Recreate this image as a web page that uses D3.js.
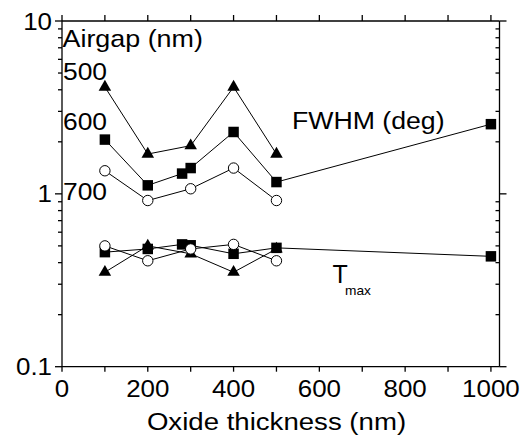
<!DOCTYPE html>
<html>
<head>
<meta charset="utf-8">
<script src="https://cdn.jsdelivr.net/npm/d3@7/dist/d3.min.js"></script>
<style>
  html, body { margin: 0; padding: 0; background: #fff; }
  svg { display: block; }
  text { font-family: "Liberation Sans", Arial, sans-serif; fill: #000; }
</style>
</head>
<body>
<svg id="chart" width="523" height="435"></svg>
<script>
// ---- data ----
const x500 = [100, 200, 300, 400, 500];
const x600 = [100, 200, 280, 300, 400, 500, 1000];
const x700 = [100, 200, 300, 400, 500];

const fwhm500 = [4.15, 1.70, 1.90, 4.15, 1.70];
const fwhm600 = [2.06, 1.12, 1.31, 1.41, 2.28, 1.17, 2.53];
const fwhm700 = [1.36, 0.915, 1.07, 1.41, 0.915];

const tmax500 = [0.352, 0.50, 0.45, 0.352, 0.48];
const tmax600 = [0.46, 0.48, 0.51, 0.504, 0.45, 0.487, 0.435];
const tmax700 = [0.50, 0.41, 0.48, 0.51, 0.41];

const xTickLabels = [0, 200, 400, 600, 800, 1000];
const yTickLabels = [0.1, 1, 10];
const airgapLabels = ["500", "600", "700"];

// ---- layout ----
const svg = d3.select("#chart");
const L = 62, R = 499.5, T = 21, B = 366.7;
const x = d3.scaleLinear().domain([0, 1020]).range([L, R]);
const y = d3.scaleLog().domain([0.1, 10]).range([B, T]);

const minorY = [];
[0.1, 1].forEach(d => { for (let k = 2; k <= 9; k++) minorY.push(d * k); });
const xTicksAll = d3.range(0, 1001, 100);

function stext(g, txt, px, py, size, sx, anchor) {
  const t = g.append("text")
    .attr("transform", `translate(${px},${py}) scale(${sx},1)`)
    .attr("font-size", size)
    .attr("text-anchor", anchor || "start")
    .text(txt);
  return t;
}

const axG = svg.append("g").attr("stroke", "#000").attr("stroke-width", 1.3).attr("fill", "none");
// frame
axG.append("line").attr("x1", L).attr("x2", R).attr("y1", B).attr("y2", B);
axG.append("line").attr("x1", L).attr("x2", R).attr("y1", T).attr("y2", T);
axG.append("line").attr("x1", L).attr("x2", L).attr("y1", T).attr("y2", B);
axG.append("line").attr("x1", R).attr("x2", R).attr("y1", T).attr("y2", B);

// bottom ticks (outward)
xTicksAll.forEach(v => {
  axG.append("line").attr("x1", x(v)).attr("x2", x(v)).attr("y1", B).attr("y2", B + 5);
  axG.append("line").attr("x1", x(v)).attr("x2", x(v)).attr("y1", T).attr("y2", T - 6);
});
// left ticks (outward)
yTickLabels.forEach(v => {
  axG.append("line").attr("x1", L - 7).attr("x2", L).attr("y1", y(v)).attr("y2", y(v));
  axG.append("line").attr("x1", R).attr("x2", R + 7).attr("y1", y(v)).attr("y2", y(v));
});
minorY.forEach(v => {
  axG.append("line").attr("x1", L - 4).attr("x2", L).attr("y1", y(v)).attr("y2", y(v));
  axG.append("line").attr("x1", R - 4).attr("x2", R).attr("y1", y(v)).attr("y2", y(v));
});

// tick labels
const lab = svg.append("g");
xTickLabels.forEach(v => stext(lab, String(v), x(v), 397, 24, 1.08, "middle"));
yTickLabels.forEach(v => stext(lab, String(v), 52, y(v) + 8.5, 24, 1.08, "end"));

// axis title
stext(lab, "Oxide thickness (nm)", 276.5, 430, 24, 1.15, "middle");

// annotations
stext(lab, "Airgap (nm)", 62.5, 46.7, 24, 1.12);
stext(lab, airgapLabels[0], 63, 80, 24, 1.1);
stext(lab, airgapLabels[1], 63, 130, 24, 1.1);
stext(lab, airgapLabels[2], 63, 200, 24, 1.1);
stext(lab, "FWHM (deg)", 292, 129.3, 23, 1.16);
stext(lab, "T", 332.5, 283.3, 25, 1.0);
stext(lab, "max", 345, 294.5, 12.5, 1.1);

// ---- series ----
const series = [
  { xs: x500, ys: fwhm500, shape: "tri" },
  { xs: x600, ys: fwhm600, shape: "sq" },
  { xs: x700, ys: fwhm700, shape: "circ" },
  { xs: x500, ys: tmax500, shape: "tri" },
  { xs: x600, ys: tmax600, shape: "sq" },
  { xs: x700, ys: tmax700, shape: "circ" }
];

const line = d3.line().x(d => x(d[0])).y(d => y(d[1]));
const lineG = svg.append("g");
series.forEach(s => {
  const pts = s.xs.map((v, i) => [v, s.ys[i]]);
  lineG.append("path").attr("d", line(pts))
    .attr("fill", "none").attr("stroke", "#000").attr("stroke-width", 1);
});

const symTri = d3.symbol().type(d3.symbolTriangle).size(68);
const symSq = d3.symbol().type(d3.symbolSquare).size(110);
const mG = svg.append("g");
series.forEach(s => {
  s.xs.forEach((v, i) => {
    const cx = x(v), cy = y(s.ys[i]);
    if (s.shape === "circ") {
      mG.append("circle").attr("cx", cx).attr("cy", cy).attr("r", 5.2)
        .attr("fill", "#fff").attr("stroke", "#000").attr("stroke-width", 1);
    } else {
      mG.append("path").attr("d", s.shape === "tri" ? symTri() : symSq())
        .attr("transform", `translate(${cx},${cy})`)
        .attr("fill", "#000");
    }
  });
});
</script>
</body>
</html>
